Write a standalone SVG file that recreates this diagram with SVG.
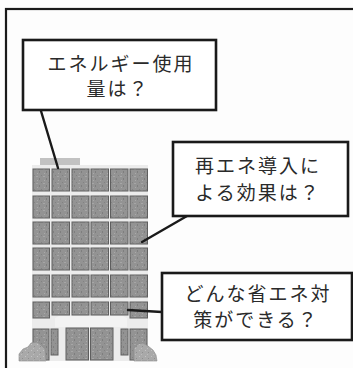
<svg xmlns="http://www.w3.org/2000/svg" width="353" height="368" viewBox="0 0 353 368">
  <defs>
    <style>
      .frame { fill: none; stroke: #1a1a1a; stroke-width: 2.2; }
      .box { fill: #ffffff; stroke: #1a1a1a; stroke-width: 2.6; }
      .lbl { font-family: "Noto Sans CJK JP", "Noto Sans", sans-serif; font-size: 19px; fill: #2a2a2a; text-anchor: middle; letter-spacing: 2px; }
      .lead { stroke: #1a1a1a; stroke-width: 2.4; fill: none; stroke-linecap: round; }
      .body { fill: #ececec; }
      .bush { fill: url(#grainLight); stroke: #8a8a8a; stroke-width: 0.6; }
    </style>
    <pattern id="grain" width="7" height="7" patternUnits="userSpaceOnUse">
      <rect width="7" height="7" fill="#939393"/>
      <rect x="1" y="1" width="2" height="1" fill="#a6a6a6"/>
      <rect x="4" y="3" width="1" height="2" fill="#7e7e7e"/>
      <rect x="2" y="5" width="1" height="1" fill="#aaaaaa"/>
      <rect x="6" y="0" width="1" height="1" fill="#828282"/>
    </pattern>
    <pattern id="grainLight" width="6" height="6" patternUnits="userSpaceOnUse">
      <rect width="6" height="6" fill="#a9a9a9"/>
      <rect x="1" y="2" width="1" height="1" fill="#c4c4c4"/>
      <rect x="4" y="4" width="1" height="1" fill="#8f8f8f"/>
      <rect x="3" y="0" width="1" height="1" fill="#bdbdbd"/>
    </pattern>
  </defs>

  <rect width="353" height="368" fill="#fdfdfd"/>

  <!-- outer frame (only top and left edges fall inside the canvas) -->
  <rect class="frame" x="6" y="9" width="360" height="380"/>

  <!-- office building -->
  <g id="building">
    <rect x="40" y="158" width="40" height="8" fill="#c2c2c2"/>
    <rect class="body" x="32" y="165" width="116" height="196"/>
    <g fill="url(#grain)" stroke="#5e5e5e" stroke-width="1">
      <!-- five full window rows, six bays each -->
      <g id="row1">
        <rect x="33" y="169" width="16.5" height="22"/>
        <rect x="52" y="169" width="17.5" height="22"/>
        <rect x="72" y="169" width="17" height="22"/>
        <rect x="91" y="169" width="17.5" height="22"/>
        <rect x="110.5" y="169" width="17.5" height="22"/>
        <rect x="130" y="169" width="17.5" height="22"/>
      </g>
      <use href="#row1" y="27"/>
      <use href="#row1" y="53"/>
      <use href="#row1" y="79"/>
      <use href="#row1" y="106"/>
      <!-- lowest upper row, notched above the entrance canopy -->
      <rect x="33" y="302" width="16.5" height="16"/>
      <rect x="52" y="302" width="17.5" height="13"/>
      <rect x="72" y="302" width="17" height="13"/>
      <rect x="91" y="302" width="17.5" height="13"/>
      <rect x="110.5" y="302" width="17.5" height="13"/>
      <rect x="130" y="302" width="17.5" height="16"/>
      <!-- ground floor: side windows and central glazed entrance -->
      <rect x="33" y="329" width="16" height="31"/>
      <rect x="51" y="329" width="7" height="26"/>
      <rect x="66" y="328" width="22.5" height="32"/>
      <rect x="90.5" y="328" width="22.5" height="32"/>
      <rect x="121" y="329" width="7" height="26"/>
      <rect x="130" y="329" width="17" height="31"/>
    </g>
    <!-- entrance canopy -->
    <path d="M55 327 L55 318 L59 316 L123 316 L127 318 L127 327 Z" fill="#f3f3f3"/>
    <!-- shrubs at the base -->
    <path class="bush" d="M19 361 L19 354 L23 349 L28 347 L31 343 L37 342 L41 345 L45 349 L46 361 Z"/>
    <path class="bush" d="M134 361 L134 348 L138 344 L143 343 L148 346 L153 350 L156 355 L157 361 Z"/>
  </g>

  <!-- leader lines -->
  <g id="connectors">
    <line class="lead" x1="41" y1="111" x2="58" y2="168"/>
    <line class="lead" x1="187" y1="216" x2="142" y2="242"/>
    <line class="lead" x1="162" y1="312" x2="128" y2="310"/>
  </g>

  <g id="q-usage">
    <rect class="box" x="23" y="40" width="193" height="70"/>
    <text class="lbl" x="121" y="71">エネルギー使用</text>
    <text class="lbl" x="118" y="96">量は？</text>
  </g>

  <g id="q-renewable">
    <rect class="box" x="173" y="142" width="175" height="74"/>
    <text class="lbl" x="258" y="173">再エネ導入に</text>
    <text class="lbl" x="258" y="200">よる効果は？</text>
  </g>

  <g id="q-saving">
    <rect class="box" x="162" y="273" width="190" height="67"/>
    <text class="lbl" x="258" y="301">どんな省エネ対</text>
    <text class="lbl" x="256" y="327">策ができる？</text>
  </g>
</svg>
